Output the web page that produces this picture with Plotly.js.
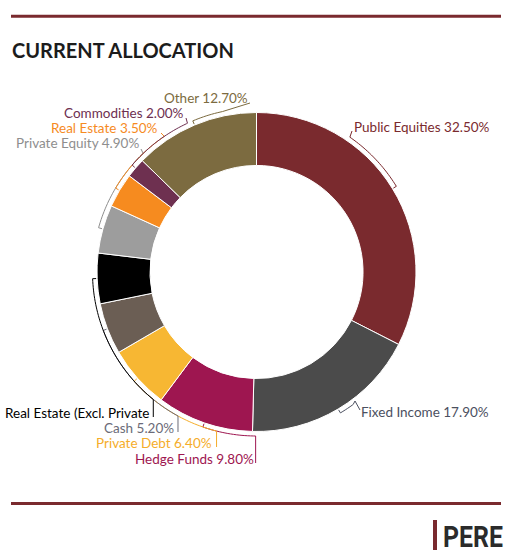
<!DOCTYPE html>
<html>
<head>
<meta charset="utf-8">
<script src="https://cdn.plot.ly/plotly-3.0.1.min.js"></script>
<style>
  html, body { margin: 0; padding: 0; background: #fff; }
  #chart { width: 515px; height: 556px; }
</style>
</head>
<body>
<div id="chart"></div>
<script>
// Allocation categories, clockwise from 12 o'clock
const categories = [
  'Public Equities', 'Fixed Income', 'Hedge Funds', 'Private Debt', 'Cash',
  'Real Estate (Excl. Private', 'Private Equity', 'Real Estate', 'Commodities', 'Other'
];
// Share of the portfolio, in percent
const shares = [32.5, 17.9, 9.8, 6.4, 5.2, 5.1, 4.9, 3.5, 2.0, 12.7];
// The long real-estate label is cut short, so it carries no value
const showValue = [true, true, true, true, true, false, true, true, true, true];
const colors = [
  '#7a2a2e', '#4b4b4b', '#9e1650', '#f7b733', '#6b5e54',
  '#000000', '#9d9d9d', '#f68b1f', '#6e3050', '#7c6b40'
];
const textColors = [
  '#7a2a2e', '#4b5060', '#9e1650', '#f5ad2a', '#6b6b78',
  '#000000', '#8e8e8e', '#f68b1f', '#6e3050', '#7c6b40'
];

// Page geometry (pixels)
const W = 515, H = 556;
const cx = 256.5, cy = 272, R = 159.5, holeFrac = 0.668;
const bracketR = R + 4.5;

// Where each label's bracket leaves the ring (degrees clockwise from top),
// the extra leader points, and where its text sits.
const labelLayout = [
  { exit: 34.7,  leader: [[352, 131]],             tx: 352, ty: 127, anchor: 'left' },
  { exit: 143.9, leader: [[355, 401], [360, 410]], tx: 359, ty: 412, anchor: 'left' },
  { exit: 180.3, drop: 463,                        tx: 256, ty: 459, anchor: 'right' },
  { exit: 194.1, drop: 447,                        tx: 214, ty: 443, anchor: 'right' },
  { exit: 208.6, drop: 432,                        tx: 176, ty: 428, anchor: 'right' },
  { exit: 219.0, drop: 417,                        tx: 152, ty: 413, anchor: 'right' },
  { exit: 316.3, leader: [[141, 149]],             tx: 141, ty: 143, anchor: 'right' },
  { exit: 325.8, leader: [[161, 133]],             tx: 160, ty: 128, anchor: 'right' },
  { exit: 335.1, leader: [[186, 118]],             tx: 186, ty: 113, anchor: 'right' },
  { exit: 348.0, leader: [[250, 103]],             tx: 250, ty: 98,  anchor: 'right' }
];

const total = shares.reduce((a, b) => a + b, 0);
const rad = d => d * Math.PI / 180;
const pt = (deg, r) => [cx + r * Math.sin(rad(deg)), cy - r * Math.cos(rad(deg))];

const shapes = [];
const annotations = [];

let cum = 0;
shares.forEach((v, i) => {
  const start = 360 * cum / total;
  const mid = start + 180 * v / total;
  cum += v;
  const L = labelLayout[i];

  // inward tick at the slice middle, then an arc along the ring to the exit angle
  const pts = [pt(mid, R + 1), pt(mid, bracketR)];
  const step = L.exit > mid ? 1 : -1;
  for (let a = mid + step; step > 0 ? a < L.exit : a > L.exit; a += step) pts.push(pt(a, bracketR));
  const end = pt(L.exit, bracketR);
  pts.push(end);
  if (L.drop !== undefined) pts.push([end[0], L.drop]);
  if (L.leader) L.leader.forEach(p => pts.push(p));

  const path = pts.map((p, k) => (k ? 'L' : 'M') + p[0].toFixed(2) + ',' + p[1].toFixed(2)).join(' ');
  shapes.push({
    type: 'path', xref: 'x', yref: 'y', path: path,
    line: { color: textColors[i], width: 1 }
  });

  const text = showValue[i] ? categories[i] + ' ' + v.toFixed(2) + '%' : categories[i];
  annotations.push({
    xref: 'x', yref: 'y', x: L.tx, y: L.ty, text: text, showarrow: false,
    xanchor: L.anchor, yanchor: 'middle',
    font: { family: 'Lato, "Liberation Sans", sans-serif', size: 13.5, color: textColors[i] }
  });
});

// Header and footer rules, title and logo
const ruleColor = '#7a2a2e';
shapes.push(
  { type: 'line', xref: 'x', yref: 'y', x0: 11, x1: 501, y0: 16.3, y1: 16.3, line: { color: ruleColor, width: 3 } },
  { type: 'line', xref: 'x', yref: 'y', x0: 11, x1: 501, y0: 503.5, y1: 503.5, line: { color: ruleColor, width: 3 } },
  { type: 'rect', xref: 'x', yref: 'y', x0: 433, x1: 437, y0: 520, y1: 550, fillcolor: ruleColor, line: { width: 0 } }
);
annotations.push(
  { xref: 'x', yref: 'y', x: 10, y: 50, text: '<b>CURRENT ALLOCATION</b>', showarrow: false,
    xanchor: 'left', yanchor: 'middle',
    font: { family: 'Lato, sans-serif', size: 20, color: '#1c1c1c' } },
  { xref: 'x', yref: 'y', x: 441, y: 536, text: '<b>PERE</b>', showarrow: false,
    xanchor: 'left', yanchor: 'middle',
    font: { family: 'Roboto, "Liberation Sans", sans-serif', size: 30, color: '#2b2b2b' } }
);

const pie = {
  type: 'pie', labels: categories, values: shares, sort: false,
  direction: 'clockwise', rotation: 0, hole: holeFrac,
  marker: { colors: colors, line: { color: '#ffffff', width: 1 } },
  textinfo: 'none', hoverinfo: 'label+percent', showlegend: false,
  domain: { x: [(cx - R) / W, (cx + R) / W], y: [1 - (cy + R) / H, 1 - (cy - R) / H] }
};

// Empty trace that carries the pixel-scaled axes used by shapes and labels
const canvas = { type: 'scatter', x: [], y: [], hoverinfo: 'skip', showlegend: false };

const layout = {
  width: W, height: H, autosize: false,
  margin: { l: 0, r: 0, t: 0, b: 0 },
  paper_bgcolor: '#ffffff', plot_bgcolor: 'rgba(0,0,0,0)',
  xaxis: { range: [0, W], visible: false, fixedrange: true },
  yaxis: { range: [H, 0], visible: false, fixedrange: true },
  shapes: shapes, annotations: annotations, showlegend: false
};

Plotly.newPlot('chart', [pie, canvas], layout, { displayModeBar: false, staticPlot: true })
  .then(gd => {
    // Squeeze the logo word into a condensed face, keeping its left edge fixed
    gd.querySelectorAll('.annotation-text').forEach(t => {
      if (t.textContent !== 'PERE') return;
      const box = t.getBBox();
      const s = 60 / box.width;
      t.setAttribute('transform',
        'translate(' + box.x + ',0) scale(' + s.toFixed(3) + ',1) translate(' + (-box.x) + ',0)');
    });
  });
</script>
</body>
</html>
